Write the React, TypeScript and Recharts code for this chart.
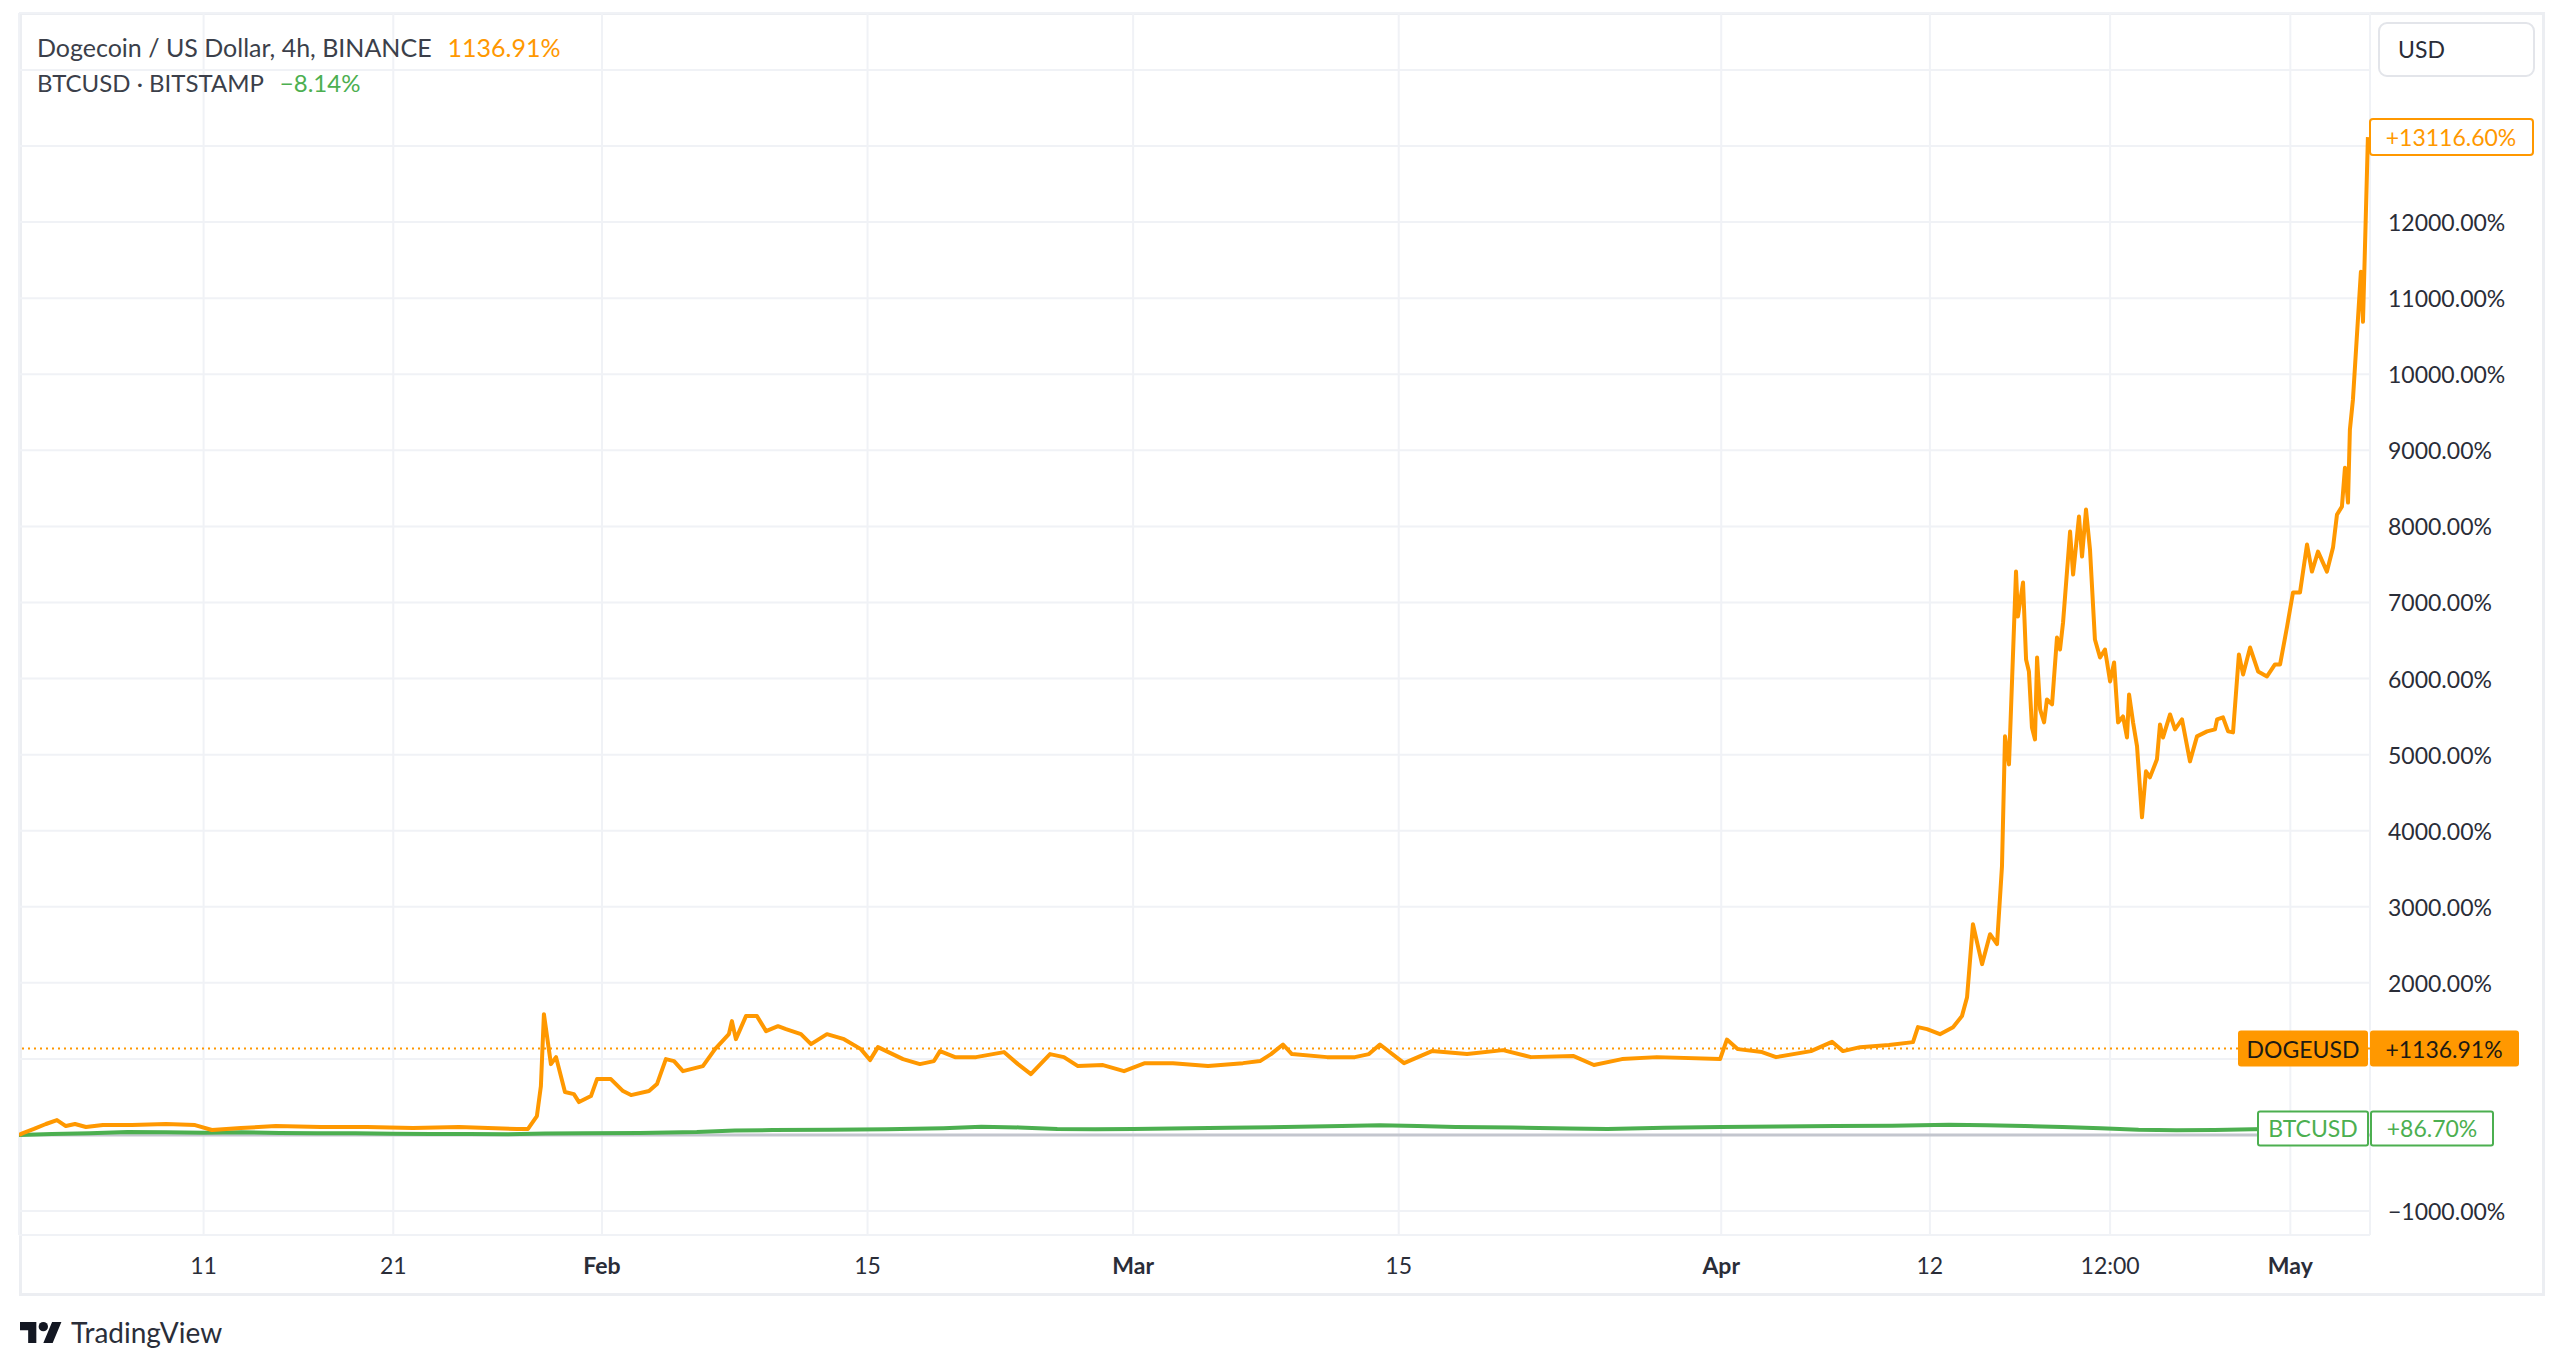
import React from "react";
import { LineChart, Line, XAxis, YAxis, CartesianGrid, ReferenceLine } from "recharts";

// days counted from Jan 1 (Jan 1 = 0), values in % change
const dogeDays = [
  0.27, 0.48, 1.06, 1.69, 2.27, 2.74, 3.22, 3.8, 4.69, 6.22, 8.02, 9.55, 10.44, 11.97, 13.81, 16.19, 18.61, 21.04,
  23.46, 26.52, 27.1, 27.57, 27.78, 27.94, 28.31, 28.58, 29.05, 29.52, 29.79, 30.42, 30.74, 31.47, 32.11, 32.53,
  33.48, 33.9, 34.37, 34.8, 35.27, 36.32, 36.96, 37.69, 37.85, 38.06, 38.59, 39.17, 39.65, 40.28, 40.7, 41.49,
  42.02, 42.86, 43.76, 44.65, 45.13, 45.55, 46.87, 47.76, 48.5, 48.82, 49.61, 50.72, 52.19, 52.93, 53.61, 54.62,
  55.35, 56.09, 57.41, 58.52, 59.62, 61.1, 62.95, 64.79, 65.69, 66.27, 66.9, 67.37, 69.22, 70.69, 71.43, 72.01,
  73.28, 74.75, 76.6, 78.5, 79.97, 82.19, 83.29, 84.77, 86.61, 89.94, 90.3, 90.88, 92.15, 92.89, 94.73, 95.84,
  96.42, 97.32, 98.84, 100.11, 100.37, 100.85, 101.53, 102.22, 102.69, 102.96, 103.27, 103.75, 104.17, 104.54,
  104.8, 104.96, 105.17, 105.54, 105.64, 105.91, 106.07, 106.22, 106.38, 106.54, 106.65, 106.81, 107.02, 107.17,
  107.44, 107.7, 107.86, 108.02, 108.39, 108.55, 108.86, 109.02, 109.23, 109.44, 109.7, 109.97, 110.23, 110.5,
  110.71, 110.92, 111.18, 111.39, 111.5, 111.71, 111.92, 112.18, 112.39, 112.6, 112.97, 113.13, 113.29, 113.66,
  113.92, 114.29, 114.71, 115.08, 115.61, 116.03, 116.14, 116.45, 116.72, 116.98, 117.29, 117.51, 117.88, 118.3,
  118.77, 119.19, 119.46, 119.83, 120.14, 120.51, 120.88, 121.14, 121.46, 121.93, 122.25, 122.46, 122.72, 122.88,
  123.04, 123.14, 123.3, 123.72, 123.83, 124.09,
];
const dogeValues = [
  0, 25, 80, 145, 197, 118, 145, 105, 131, 131, 145, 131, 66, 92, 118, 105, 105, 92,
  105, 80, 80, 250, 640, 1589, 932, 1024, 565, 538, 433, 512, 735, 735, 578, 525,
  578, 670, 998, 972, 840, 906, 1129, 1326, 1497, 1260, 1563, 1563, 1366, 1431, 1392, 1326,
  1195, 1326, 1260, 1129, 985, 1155, 998, 932, 972, 1103, 1024, 1024, 1090, 932, 801, 1064,
  1024, 906, 919, 840, 945, 945, 906, 945, 972, 1064, 1190, 1064, 1024, 1024, 1064, 1190,
  945, 1103, 1064, 1116, 1024, 1040, 920, 998, 1024, 998, 1255, 1129, 1090, 1024, 1103, 1225,
  1103, 1155, 1182, 1221, 1418, 1392, 1326, 1418, 1563, 1812, 2771, 2246, 2640, 2508,
  3532, 5240, 4872, 7406, 6815, 7262, 6251, 6093, 5358, 5200, 6277, 5594, 5424, 5725,
  5660, 6540, 6382, 6737, 7932, 7367, 8129, 7603, 8221, 7695, 6513, 6277, 6382, 5962,
  6211, 5424, 5502, 5226, 5791, 5424, 5108, 4176, 4780, 4701, 4938, 5397, 5226, 5528,
  5332, 5463, 4911, 5240, 5306, 5332, 5463, 5489, 5306, 5292, 6317, 6054, 6408, 6093,
  6028, 6185, 6185, 6684, 7131, 7131, 7761, 7406, 7669, 7406, 7721, 8155, 8260, 8772,
  8313, 9271, 9665, 11346, 10689, 13116.6,
];

const btcDays = [
  0.27, 2, 4, 6, 8, 10, 12, 14, 16, 18, 20, 22, 24, 26, 28, 30, 33, 36, 38, 40, 43, 46, 49, 51, 53, 55, 57, 59,
  61, 64, 67, 70, 72, 74, 76, 79, 82, 84, 87, 90, 93, 96, 99, 102, 104, 106, 108, 110, 112, 114, 116, 118, 120,
  122, 124.09,
];
const btcValues = [
  0, 12, 25, 40, 35, 30, 35, 28, 25, 22, 18, 12, 15, 10, 20, 22, 28, 40, 60, 65, 68, 75, 90, 110, 100, 80, 75, 80,
  85, 95, 105, 120, 130, 118, 105, 100, 85, 80, 95, 105, 112, 118, 122, 135, 128, 118, 105, 90, 70, 62, 66, 75, 82,
  85, 86.7,
];

const xTicks = [10, 20, 31, 45, 59, 73, 90, 101, 110.5, 120];
const xTickLabels = ["11", "21", "Feb", "15", "Mar", "15", "Apr", "12", "12:00", "May"];
const monthLabels = ["Feb", "Mar", "Apr", "May"];

const yTicks = [-1000, 0, 1000, 2000, 3000, 4000, 5000, 6000, 7000, 8000, 9000, 10000, 11000, 12000, 13000, 14000];
// labels covered by the price badges / currency button
const hiddenYTicks = [0, 1000, 13000, 14000];

const dogeLast = 13116.6;
const dogeChange = 1136.91;
const btcChange = 86.7;

const ORANGE = "#FF9800";
const GREEN = "#4CAF50";
const TEXT = "#2a2d38";
const FONT = "Lato, 'Noto Sans', sans-serif";

const rows = [
  ...dogeDays.map((d, i) => ({ day: d, doge: dogeValues[i] })),
  ...btcDays.map((d, i) => ({ day: d, btc: btcValues[i] })),
].sort((a, b) => a.day - b.day);

const fmtPct = (v: number, sign = false) => {
  const s = Math.abs(v).toFixed(2) + "%";
  if (v < 0) return "\u2212" + s;
  return sign ? "+" + s : s;
};

function PriceTick(props: any) {
  const { x, y, payload } = props;
  if (hiddenYTicks.includes(payload.value)) return <g />;
  return (
    <text x={x + 18} y={y} dominantBaseline="central" fontSize={23} fill={TEXT} fontFamily={FONT}>
      {fmtPct(payload.value)}
    </text>
  );
}

function TimeTick(props: any) {
  const { x, y, payload } = props;
  const label = xTickLabels[xTicks.indexOf(payload.value)];
  const bold = monthLabels.includes(label);
  return (
    <text x={x} y={y + 30} textAnchor="middle" dominantBaseline="central" fontSize={23}
      fontWeight={bold ? 700 : 400} fill={TEXT} fontFamily={FONT}>
      {label}
    </text>
  );
}

function LastBadge(props: any) {
  const { viewBox } = props;
  const right = viewBox.x + viewBox.width;
  const y = viewBox.y;
  return (
    <g>
      <rect x={right} y={y - 18} width={163} height={36} rx={3} fill="#fff" stroke={ORANGE} strokeWidth={2} />
      <text x={right + 81} y={y} textAnchor="middle" dominantBaseline="central" fontSize={23} fill={ORANGE} fontFamily={FONT}>
        {fmtPct(dogeLast, true)}
      </text>
    </g>
  );
}

function DogeBadge(props: any) {
  const { viewBox } = props;
  const right = viewBox.x + viewBox.width;
  const y = viewBox.y;
  return (
    <g fontFamily={FONT} fontSize={23}>
      <rect x={right - 132} y={y - 18} width={130} height={36} rx={3} fill={ORANGE} />
      <rect x={right} y={y - 18} width={149} height={36} rx={3} fill={ORANGE} />
      <text x={right - 67} y={y} textAnchor="middle" dominantBaseline="central" fill="#1c1a14">DOGEUSD</text>
      <text x={right + 74} y={y} textAnchor="middle" dominantBaseline="central" fill="#1c1a14">{fmtPct(dogeChange, true)}</text>
    </g>
  );
}

function BtcBadge(props: any) {
  const { viewBox } = props;
  const right = viewBox.x + viewBox.width;
  const y = viewBox.y;
  return (
    <g fontFamily={FONT} fontSize={23}>
      <rect x={right - 112} y={y - 17} width={110} height={34} rx={2} fill="#fff" stroke={GREEN} strokeWidth={2} />
      <rect x={right + 1} y={y - 17} width={122} height={34} rx={2} fill="#fff" stroke={GREEN} strokeWidth={2} />
      <text x={right - 57} y={y} textAnchor="middle" dominantBaseline="central" fill={GREEN}>BTCUSD</text>
      <text x={right + 62} y={y} textAnchor="middle" dominantBaseline="central" fill={GREEN}>{fmtPct(btcChange, true)}</text>
    </g>
  );
}

export default function App() {
  return (
    <div style={{ position: "relative", width: 2560, height: 1364, background: "#fff", fontFamily: FONT }}>
      <style>{`body{margin:0;}`}</style>
      <div style={{ position: "absolute", left: 19, top: 12, width: 2526, height: 1284, border: "3px solid #eceef2", boxSizing: "border-box" }} />
      <div style={{ position: "absolute", left: 0, top: 0 }}>
        <LineChart width={2560} height={1364} data={rows} margin={{ top: 13, right: 17, bottom: 69, left: 19 }}>
          <CartesianGrid stroke="#f0f2f6" strokeWidth={2} />
          <XAxis type="number" dataKey="day" domain={[0.27, 124.2]} ticks={xTicks} interval={0} allowDataOverflow
            height={60} tickSize={0} tickMargin={0} axisLine={false} tickLine={false} tick={<TimeTick />} />
          <YAxis orientation="right" type="number" domain={[-1314, 14748]} ticks={yTicks} interval={0} allowDataOverflow
            width={173} tickSize={0} tickMargin={0} axisLine={false} tickLine={false} tick={<PriceTick />} />
          <ReferenceLine y={0} stroke="#c3c6ce" strokeWidth={3} />
          <ReferenceLine y={dogeChange} stroke={ORANGE} strokeWidth={2} strokeDasharray="2 4" />
          <Line dataKey="btc" stroke={GREEN} strokeWidth={4} dot={false} connectNulls isAnimationActive={false} />
          <Line dataKey="doge" stroke={ORANGE} strokeWidth={4} dot={false} connectNulls strokeLinejoin="round" isAnimationActive={false} />
          <ReferenceLine y={dogeChange} stroke="none" label={<DogeBadge />} />
          <ReferenceLine y={btcChange} stroke="none" label={<BtcBadge />} />
          <ReferenceLine y={dogeLast} stroke="none" label={<LastBadge />} />
        </LineChart>
      </div>
      <div style={{ position: "absolute", left: 37, top: 32, fontSize: 25, lineHeight: "30px", color: "#3b3f4a", whiteSpace: "nowrap" }}>
        Dogecoin / US Dollar, 4h, BINANCE<span style={{ color: ORANGE, marginLeft: 16 }}>{fmtPct(dogeChange)}</span>
      </div>
      <div style={{ position: "absolute", left: 37, top: 68, fontSize: 24, lineHeight: "30px", color: "#3b3f4a", whiteSpace: "nowrap" }}>
        BTCUSD · BITSTAMP<span style={{ color: GREEN, marginLeft: 16 }}>{fmtPct(-8.14)}</span>
      </div>
      <div style={{ position: "absolute", left: 2378, top: 22, width: 157, height: 55, border: "2px solid #e3e5ea", borderRadius: 9,
        boxSizing: "border-box", fontSize: 23, lineHeight: "51px", paddingLeft: 18, color: TEXT }}>
        USD
      </div>
      <svg style={{ position: "absolute", left: 20, top: 1322 }} width={42} height={21} viewBox="0 4 36 18">
        <path d="M14 22H7V11H0V4h14v18zM28 22h-8l7.5-18h8L28 22z" fill="#131722" />
        <circle cx={20} cy={8} r={4} fill="#131722" />
      </svg>
      <div style={{ position: "absolute", left: 71, top: 1315, fontSize: 28, lineHeight: "34px", color: "#2a2e39" }}>
        TradingView
      </div>
    </div>
  );
}
